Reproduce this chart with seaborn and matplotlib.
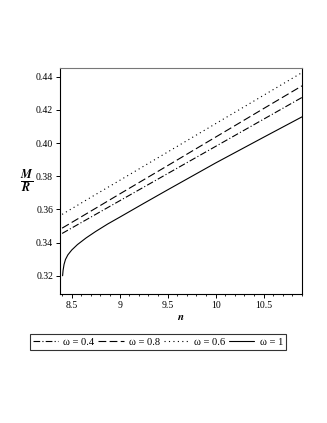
import matplotlib
matplotlib.use("Agg")
import matplotlib.pyplot as plt
import numpy as np
import pandas as pd
import seaborn as sns
from matplotlib.ticker import MultipleLocator

# values
x_common = [8.4, 8.75, 9.0, 9.5, 10.0, 10.5, 10.9]
mr_w04 = [0.3455, 0.357, 0.3652, 0.3816, 0.398, 0.4144, 0.4275]
mr_w08 = [0.3487, 0.3607, 0.3693, 0.3864, 0.4036, 0.4208, 0.4345]
mr_w06 = [0.357, 0.369, 0.3775, 0.3946, 0.4117, 0.4288, 0.4425]

x_w1 = [8.405, 8.41, 8.42, 8.435, 8.46, 8.5, 8.56, 8.65, 8.75, 8.875,
        9.0, 9.25, 9.5, 10.0, 10.5, 10.9]
mr_w1 = [0.320, 0.3232, 0.3268, 0.3298, 0.3326, 0.3355, 0.3388, 0.3428, 0.3467, 0.3512,
         0.3553, 0.3636, 0.3718, 0.388, 0.4035, 0.4158]

labels = ["ω = 0.4", "ω = 0.8", "ω = 0.6", "ω = 1"]

sns.set_theme(style="white")
plt.rcParams["font.family"] = ["Liberation Serif", "DejaVu Serif"]
plt.rcParams["mathtext.fontset"] = "stix"
for key in ["text.color", "axes.labelcolor", "xtick.color", "ytick.color"]:
    plt.rcParams[key] = "black"

fig = plt.figure(figsize=(3.27, 4.23), dpi=100)
ax = fig.add_axes([0.1835, 0.305, 0.74, 0.534])

styles = [(0, (6, 2, 1, 2)), (0, (7, 3)), (0, (1, 3)), "-"]
series = [(x_common, mr_w04), (x_common, mr_w08), (x_common, mr_w06), (x_w1, mr_w1)]
for (xs, ys), ls, lab in zip(series, styles, labels):
    df = pd.DataFrame({"n": xs, "MR": ys})
    sns.lineplot(data=df, x="n", y="MR", ax=ax, color="black", linewidth=0.8,
                 linestyle=ls, label=lab, legend=False, estimator=None, sort=True)

ax.set_xlim(8.378, 10.9)
ax.set_ylim(0.309, 0.4452)
ax.xaxis.set_minor_locator(MultipleLocator(0.1))
ax.set_xticks([8.5, 9, 9.5, 10, 10.5])
ax.set_xticklabels(["8.5", "9", "9.5", "10", "10.5"])
ax.set_yticks([0.32, 0.34, 0.36, 0.38, 0.40, 0.42, 0.44])
ax.set_yticklabels(["0.32", "0.34", "0.36", "0.38", "0.40", "0.42", "0.44"])
ax.tick_params(axis="both", which="major", direction="out", length=3, width=0.7,
               labelsize=7, color="black", labelcolor="black", pad=2, bottom=True, left=True)
ax.tick_params(axis="x", which="minor", direction="out", length=1.5, width=0.6,
               color="black", bottom=True)
for side in ["left", "bottom", "right"]:
    ax.spines[side].set_color("black")
    ax.spines[side].set_linewidth(0.8)
ax.spines["top"].set_color("#777777")
ax.spines["top"].set_linewidth(0.8)

ax.set_xlabel(r"$\mathbfit{n}$", fontsize=8, labelpad=2, color="black")
ax.set_ylabel("")
fig.text(0.083, 0.572, r"$\frac{\mathbfit{M}}{\mathbfit{R}}$", fontsize=12.5,
         ha="center", va="center", color="black")

handles, labs = ax.get_legend_handles_labels()
leg = fig.legend(handles, labs, loc="center", bbox_to_anchor=(0.483, 0.1915),
                 ncol=4, fontsize=7.6, frameon=True, fancybox=False,
                 handlelength=2.4, handletextpad=0.5, columnspacing=0.35,
                 borderpad=0.3, borderaxespad=0)
leg.get_frame().set_edgecolor("black")
leg.get_frame().set_linewidth(0.8)
for t in leg.get_texts():
    t.set_color("black")

fig.savefig("out.png", dpi=100)
